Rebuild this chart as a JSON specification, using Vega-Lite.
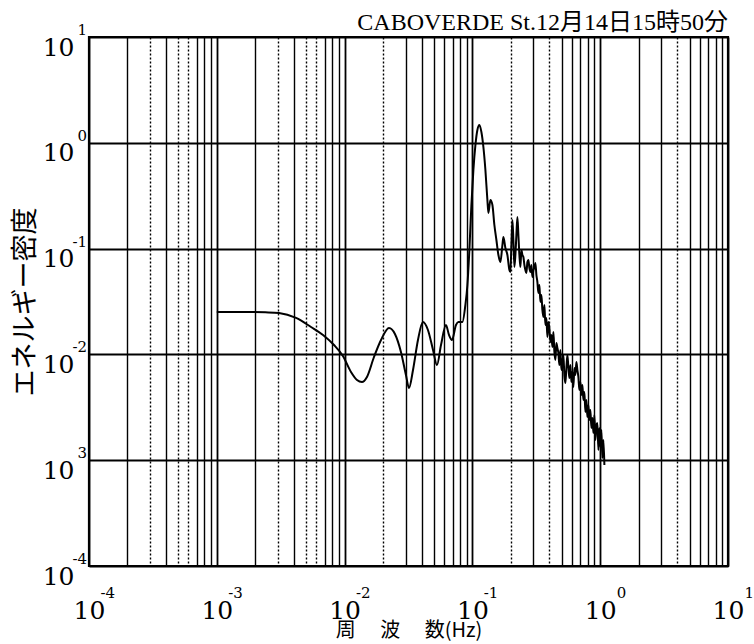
{
  "$schema": "https://vega.github.io/schema/vega-lite/v6.json",
  "width": 639,
  "height": 529,
  "autosize": {"type": "none"},
  "padding": {"left": 89, "top": 37, "right": 26, "bottom": 78},
  "background": "white",
  "config": {
    "view": {"stroke": "black", "strokeWidth": 2.2},
    "font": "DejaVu Serif"
  },
  "title": {
    "text": "CABOVERDE St.12月14日15時50分",
    "anchor": "end",
    "orient": "top",
    "frame": "group",
    "offset": 3,
    "dy": 34,
    "baseline": "alphabetic",
    "font": "'Liberation Serif', 'Noto Sans CJK JP'",
    "fontSize": 24,
    "fontWeight": "normal",
    "color": "black"
  },
  "datasets": {
    "spectrum": [
      {"f": 0.001, "e": 0.0252},
      {"f": 0.00145, "e": 0.0252},
      {"f": 0.00185, "e": 0.0252},
      {"f": 0.0024, "e": 0.025},
      {"f": 0.00307, "e": 0.0246},
      {"f": 0.00417, "e": 0.0221},
      {"f": 0.00546, "e": 0.01816},
      {"f": 0.00678, "e": 0.01526},
      {"f": 0.00826, "e": 0.01227},
      {"f": 0.0097, "e": 0.00966},
      {"f": 0.01122, "e": 0.00682},
      {"f": 0.0125, "e": 0.00573},
      {"f": 0.01368, "e": 0.00548},
      {"f": 0.01496, "e": 0.00612},
      {"f": 0.01698, "e": 0.00945},
      {"f": 0.01927, "e": 0.01368},
      {"f": 0.02225, "e": 0.01776},
      {"f": 0.02477, "e": 0.01559},
      {"f": 0.0276, "e": 0.01054},
      {"f": 0.0302, "e": 0.00639},
      {"f": 0.0319, "e": 0.00481},
      {"f": 0.0343, "e": 0.00712},
      {"f": 0.0375, "e": 0.01368},
      {"f": 0.041, "e": 0.02024},
      {"f": 0.0449, "e": 0.01701},
      {"f": 0.0492, "e": 0.01101},
      {"f": 0.0528, "e": 0.00794},
      {"f": 0.0568, "e": 0.01227},
      {"f": 0.0621, "e": 0.01896},
      {"f": 0.0656, "e": 0.01526},
      {"f": 0.0692, "e": 0.01368},
      {"f": 0.0744, "e": 0.01896},
      {"f": 0.0777, "e": 0.02024},
      {"f": 0.0835, "e": 0.02024},
      {"f": 0.0881, "e": 0.0293},
      {"f": 0.0914, "e": 0.0453},
      {"f": 0.0947, "e": 0.097},
      {"f": 0.0982, "e": 0.2583},
      {"f": 0.1018, "e": 0.5534},
      {"f": 0.1056, "e": 0.9532},
      {"f": 0.1094, "e": 1.321},
      {"f": 0.1134, "e": 1.473},
      {"f": 0.1176, "e": 1.265},
      {"f": 0.1219, "e": 0.9127},
      {"f": 0.1264, "e": 0.5534},
      {"f": 0.131, "e": 0.288},
      {"f": 0.1334, "e": 0.217},
      {"f": 0.1383, "e": 0.288},
      {"f": 0.1434, "e": 0.2583},
      {"f": 0.1486, "e": 0.1671},
      {"f": 0.1541, "e": 0.1206},
      {"f": 0.1598, "e": 0.087},
      {"f": 0.1656, "e": 0.0747},
      {"f": 0.1717, "e": 0.1081},
      {"f": 0.1748, "e": 0.1287},
      {"f": 0.1812, "e": 0.1013},
      {"f": 0.1879, "e": 0.087},
      {"f": 0.1948, "e": 0.0627},
      {"f": 0.1983, "e": 0.0601},
      {"f": 0.2019, "e": 0.1081},
      {"f": 0.2056, "e": 0.1863},
      {"f": 0.2093, "e": 0.1206},
      {"f": 0.2131, "e": 0.067},
      {"f": 0.217, "e": 0.087},
      {"f": 0.2209, "e": 0.1344},
      {"f": 0.225, "e": 0.1989},
      {"f": 0.229, "e": 0.1344},
      {"f": 0.2332, "e": 0.087},
      {"f": 0.2374, "e": 0.067},
      {"f": 0.2418, "e": 0.097},
      {"f": 0.2462, "e": 0.087},
      {"f": 0.2506, "e": 0.0833},
      {"f": 0.2552, "e": 0.07},
      {"f": 0.2598, "e": 0.0627},
      {"f": 0.2645, "e": 0.0588},
      {"f": 0.2694, "e": 0.0747},
      {"f": 0.2742, "e": 0.078},
      {"f": 0.2792, "e": 0.0655},
      {"f": 0.2843, "e": 0.0601},
      {"f": 0.2895, "e": 0.07},
      {"f": 0.2947, "e": 0.0539},
      {"f": 0.3001, "e": 0.0627},
      {"f": 0.3055, "e": 0.0655},
      {"f": 0.3111, "e": 0.0731},
      {"f": 0.3168, "e": 0.0563},
      {"f": 0.3225, "e": 0.0483},
      {"f": 0.3284, "e": 0.03805},
      {"f": 0.3344, "e": 0.04529},
      {"f": 0.3404, "e": 0.03129},
      {"f": 0.3466, "e": 0.03641},
      {"f": 0.3529, "e": 0.02628},
      {"f": 0.3593, "e": 0.02257},
      {"f": 0.3659, "e": 0.0293},
      {"f": 0.3725, "e": 0.01896},
      {"f": 0.3793, "e": 0.02208},
      {"f": 0.3862, "e": 0.01461},
      {"f": 0.3932, "e": 0.02024},
      {"f": 0.4004, "e": 0.01776},
      {"f": 0.4076, "e": 0.0131},
      {"f": 0.415, "e": 0.01526},
      {"f": 0.4226, "e": 0.01175},
      {"f": 0.4303, "e": 0.01628},
      {"f": 0.4381, "e": 0.01054},
      {"f": 0.446, "e": 0.00886},
      {"f": 0.4541, "e": 0.01282},
      {"f": 0.4624, "e": 0.01149},
      {"f": 0.4708, "e": 0.01031},
      {"f": 0.4794, "e": 0.00794},
      {"f": 0.4881, "e": 0.01101},
      {"f": 0.4969, "e": 0.00712},
      {"f": 0.506, "e": 0.00829},
      {"f": 0.5152, "e": 0.00987},
      {"f": 0.5245, "e": 0.00625},
      {"f": 0.5341, "e": 0.00537},
      {"f": 0.5438, "e": 0.00744},
      {"f": 0.5537, "e": 0.00987},
      {"f": 0.5637, "e": 0.0076},
      {"f": 0.574, "e": 0.00598},
      {"f": 0.5844, "e": 0.00794},
      {"f": 0.595, "e": 0.00548},
      {"f": 0.6058, "e": 0.00682},
      {"f": 0.6169, "e": 0.00492},
      {"f": 0.6281, "e": 0.00744},
      {"f": 0.6395, "e": 0.00639},
      {"f": 0.6511, "e": 0.00848},
      {"f": 0.663, "e": 0.00712},
      {"f": 0.675, "e": 0.00612},
      {"f": 0.6873, "e": 0.00461},
      {"f": 0.6998, "e": 0.00548},
      {"f": 0.7125, "e": 0.00413},
      {"f": 0.7255, "e": 0.00514},
      {"f": 0.7387, "e": 0.00371},
      {"f": 0.7521, "e": 0.00441},
      {"f": 0.7658, "e": 0.00285},
      {"f": 0.7797, "e": 0.00371},
      {"f": 0.7939, "e": 0.00256},
      {"f": 0.8083, "e": 0.00332},
      {"f": 0.823, "e": 0.0024},
      {"f": 0.838, "e": 0.00298},
      {"f": 0.8532, "e": 0.00202},
      {"f": 0.8687, "e": 0.00251},
      {"f": 0.8845, "e": 0.00181},
      {"f": 0.9006, "e": 0.00267},
      {"f": 0.917, "e": 0.00155},
      {"f": 0.9336, "e": 0.00215},
      {"f": 0.9506, "e": 0.00225},
      {"f": 0.9679, "e": 0.00125},
      {"f": 0.9855, "e": 0.00202},
      {"f": 1.0034, "e": 0.00133},
      {"f": 1.0217, "e": 0.00193},
      {"f": 1.0403, "e": 0.00105},
      {"f": 1.0592, "e": 0.00155},
      {"f": 1.0785, "e": 0.0009}
    ],
    "xExponents": [
      {"v": 0.0001, "t": "-4"},
      {"v": 0.001, "t": "-3"},
      {"v": 0.01, "t": "-2"},
      {"v": 0.1, "t": "-1"},
      {"v": 1, "t": "0"},
      {"v": 10, "t": "1"}
    ],
    "yExponents": [
      {"v": 10, "t": "1"},
      {"v": 1, "t": "0"},
      {"v": 0.1, "t": "-1"},
      {"v": 0.01, "t": "-2"},
      {"v": 0.001, "t": "3"},
      {"v": 0.0001, "t": "-4"}
    ]
  },
  "layer": [
    {
      "data": {"name": "spectrum"},
      "mark": {"type": "line", "color": "black", "strokeWidth": 2, "interpolate": "monotone", "clip": true},
      "encoding": {
        "x": {
          "field": "f",
          "type": "quantitative",
          "scale": {"type": "log", "domain": [0.0001, 10], "nice": false},
          "axis": {
            "values": [0.0001, 0.0002, 0.0003, 0.0004, 0.0005, 0.0006, 0.0007, 0.0008, 0.0009,
                       0.001, 0.002, 0.003, 0.004, 0.005, 0.006, 0.007, 0.008, 0.009,
                       0.01, 0.02, 0.03, 0.04, 0.05, 0.06, 0.07, 0.08, 0.09,
                       0.1, 0.2, 0.3, 0.4, 0.5, 0.6, 0.7, 0.8, 0.9,
                       1, 2, 3, 4, 5, 6, 7, 8, 9, 10],
            "grid": true,
            "gridColor": "black",
            "gridOpacity": 1,
            "gridWidth": {"condition": {"test": "substring(format(datum.value, '.1e'), 0, 1) == '1'", "value": 1.8}, "value": 1.4},
            "gridDash": {"condition": {"test": "indexof(['3.0e-4','5.0e-4','6.0e-4','3.0e-3','5.0e-3','6.0e-3','2.0e-2','2.0e-1','4.0e-1','4.0e+0'], format(datum.value, '.1e')) >= 0", "value": [2, 2]}, "value": []},
            "domain": false,
            "ticks": false,
            "tickSize": 0,
            "labelExpr": "substring(format(datum.value, '.1e'), 0, 1) == '1' ? '10' : ''",
            "labelFont": "DejaVu Serif",
            "labelFontSize": 25,
            "labelColor": "black",
            "labelAngle": 0,
            "labelAlign": "center",
            "labelBaseline": "middle",
            "labelPadding": 44,
            "labelFlush": false,
            "labelOverlap": false,
            "title": "周　 波　 数(Hz)",
            "titleFont": "'Noto Sans CJK JP'",
            "titleFontSize": 20,
            "titleFontWeight": "normal",
            "titleColor": "black",
            "titlePadding": -3
          }
        },
        "y": {
          "field": "e",
          "type": "quantitative",
          "scale": {"type": "log", "domain": [0.0001, 10], "nice": false},
          "axis": {
            "values": [0.0001, 0.001, 0.01, 0.1, 1, 10],
            "grid": true,
            "gridColor": "black",
            "gridOpacity": 1,
            "gridWidth": 2,
            "domain": false,
            "ticks": false,
            "tickSize": 0,
            "labelExpr": "'10'",
            "labelFont": "DejaVu Serif",
            "labelFontSize": 25,
            "labelColor": "black",
            "labelAlign": "right",
            "labelBaseline": "middle",
            "labelOffset": 10,
            "labelPadding": 15,
            "labelFlush": false,
            "labelOverlap": false,
            "title": "エネルギー密度",
            "titleFont": "'Noto Sans CJK JP'",
            "titleFontSize": 27,
            "titleFontWeight": "normal",
            "titleColor": "black",
            "titlePadding": 3
          }
        }
      }
    },
    {
      "data": {"name": "xExponents"},
      "mark": {"type": "text", "align": "right", "baseline": "middle", "dx": 26, "dy": 27, "font": "DejaVu Serif", "fontSize": 15, "color": "black"},
      "encoding": {
        "x": {"field": "v", "type": "quantitative"},
        "y": {"datum": 0.0001},
        "text": {"field": "t"}
      }
    },
    {
      "data": {"name": "yExponents"},
      "mark": {"type": "text", "align": "right", "baseline": "middle", "dx": -2, "dy": -7, "font": "DejaVu Serif", "fontSize": 15, "color": "black"},
      "encoding": {
        "x": {"datum": 0.0001},
        "y": {"field": "v", "type": "quantitative"},
        "text": {"field": "t"}
      }
    }
  ]
}
